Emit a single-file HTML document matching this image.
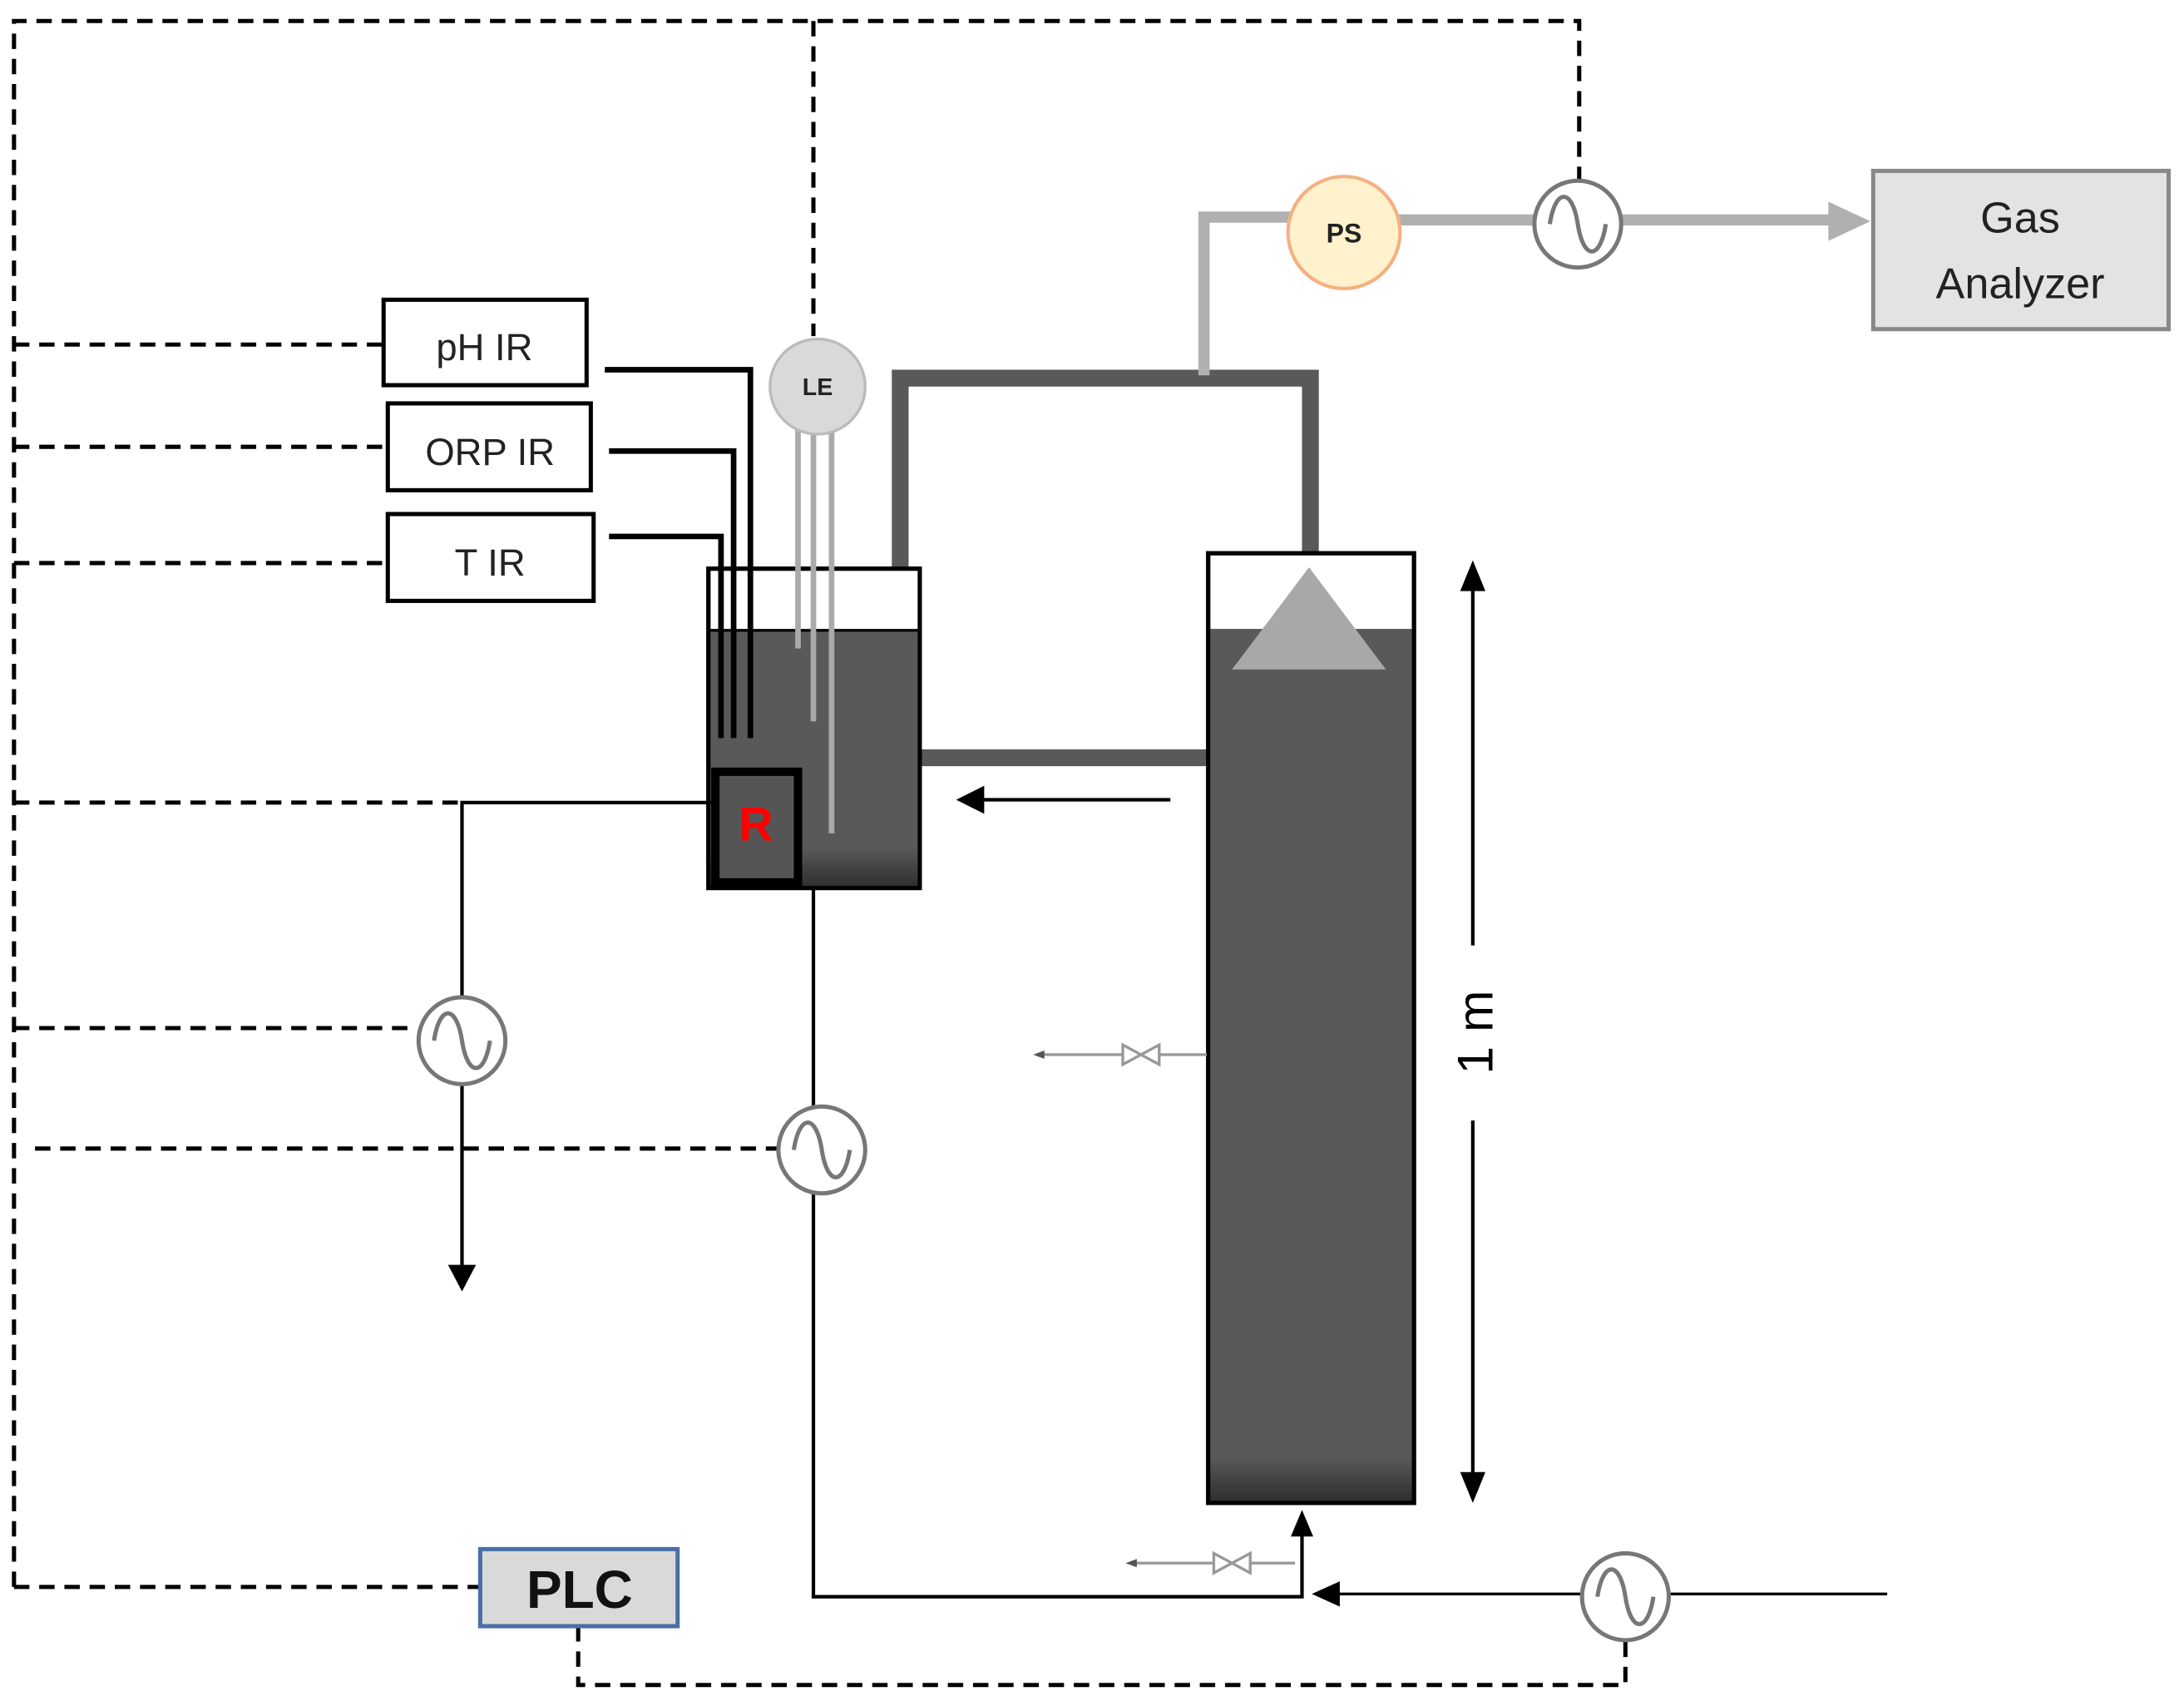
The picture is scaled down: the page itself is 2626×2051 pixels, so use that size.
<!DOCTYPE html>
<html><head><meta charset="utf-8"><style>html,body{margin:0;padding:0;background:#fff}svg{display:block}</style></head>
<body>
<svg width="2626" height="2051" viewBox="0 0 1560 1218" preserveAspectRatio="none" xmlns="http://www.w3.org/2000/svg" font-family="'Liberation Sans', sans-serif">
<defs>
<linearGradient id="liq" x1="0" y1="0" x2="0" y2="1">
<stop offset="0.85" stop-color="#595959"/><stop offset="1" stop-color="#2e2e2e"/>
</linearGradient>
<linearGradient id="liq2" x1="0" y1="0" x2="0" y2="1">
<stop offset="0.95" stop-color="#595959"/><stop offset="1" stop-color="#2e2e2e"/>
</linearGradient>
<g id="pump"><circle r="31" fill="#fff" stroke="#777" stroke-width="3"/><path d="M-20,0 C-16,-26 -4,-26 0,0 C4,26 16,26 20,0" fill="none" stroke="#777" stroke-width="3"/></g>
</defs>

<!-- dashed control lines -->
<g stroke="#000" stroke-width="3" stroke-dasharray="11,7" fill="none">
<path d="M10,1133 V15 H1128 V128"/>
<path d="M581,15 V240"/>
<path d="M10,246 H273"/>
<path d="M10,319 H277"/>
<path d="M10,402 H277"/>
<path d="M10,573 H330"/>
<path d="M10,734 H298"/>
<path d="M25,820 H555"/>
<path d="M10,1133 H343"/>
<path d="M413,1161 V1203 H1161 V1172"/>
</g>

<!-- sensor boxes -->
<g fill="#fff" stroke="#000" stroke-width="3">
<rect x="274" y="214" width="145" height="61"/>
<rect x="277" y="288" width="145" height="62"/>
<rect x="277" y="367" width="147" height="62"/>
</g>
<g font-size="27" fill="#222" text-anchor="middle">
<text x="346" y="257">pH IR</text>
<text x="350" y="332">ORP IR</text>
<text x="350" y="411">T IR</text>
</g>

<!-- dark pipes -->
<g stroke="#595959" stroke-width="12" fill="none">
<path d="M643,432 V270 H936 V405"/>
<path d="M658,541 H862"/>
</g>

<!-- tank 1 -->
<rect x="506" y="406" width="151" height="228" fill="#fff" stroke="#000" stroke-width="3"/>
<rect x="507" y="450" width="149" height="183" fill="url(#liq)"/>
<line x1="506" y1="450" x2="657" y2="450" stroke="#000" stroke-width="2"/>
<rect x="506" y="406" width="151" height="228" fill="none" stroke="#000" stroke-width="3"/>
<rect x="511" y="551" width="59" height="79" fill="#555" stroke="#000" stroke-width="6"/>
<text x="540" y="600" font-size="34" font-weight="bold" fill="#f00" text-anchor="middle">R</text>

<!-- sensor lines -->
<g stroke="#000" stroke-width="4" fill="none">
<path d="M432,264 H536 V527"/>
<path d="M435,322 H524 V527"/>
<path d="M435,383 H515 V527"/>
</g>
<path d="M510,573 H330 V905" stroke="#000" stroke-width="2.5" fill="none"/>
<polygon points="320,903 340,903 330,922" fill="#000"/>

<!-- LE probes -->
<g stroke="#aaa" stroke-width="4">
<line x1="570" y1="300" x2="570" y2="463"/>
<line x1="581" y1="300" x2="581" y2="515"/>
<line x1="594" y1="300" x2="594" y2="595"/>
</g>
<circle cx="584" cy="276" r="34" fill="#d9d9d9" stroke="#bbb" stroke-width="2"/>
<text x="584" y="282" font-size="17" font-weight="bold" text-anchor="middle" fill="#222">LE</text>

<!-- gas line -->
<g stroke="#b0b0b0" stroke-width="8" fill="none">
<path d="M860,268 V155 H925"/>
<path d="M998,157 H1100"/>
<path d="M1158,157 H1312"/>
</g>
<polygon points="1306,144 1336,158 1306,172" fill="#b0b0b0"/>
<circle cx="960" cy="166" r="40" fill="#fff2cc" stroke="#f4b183" stroke-width="2.5"/>
<text x="960" y="173" font-size="19" font-weight="bold" text-anchor="middle" fill="#222">PS</text>
<use href="#pump" x="1127" y="160"/>
<rect x="1338" y="122" width="211" height="113" fill="#e3e3e3" stroke="#888" stroke-width="3"/>
<g font-size="31" fill="#222" text-anchor="middle">
<text x="1443" y="166">Gas</text>
<text x="1443" y="213">Analyzer</text>
</g>

<!-- column -->
<rect x="863" y="395" width="147" height="678" fill="#fff" stroke="#000" stroke-width="3"/>
<rect x="864" y="449" width="145" height="623" fill="url(#liq2)"/>
<rect x="863" y="395" width="147" height="678" fill="none" stroke="#000" stroke-width="3"/>
<polygon points="935,405 990,478 880,478" fill="#aaa8a7"/>

<!-- return arrow -->
<line x1="836" y1="571" x2="700" y2="571" stroke="#000" stroke-width="2.5"/>
<polygon points="683,571 703,561 703,581" fill="#000"/>

<!-- dimension -->
<g stroke="#000" stroke-width="2.5">
<line x1="1052" y1="415" x2="1052" y2="675"/>
<line x1="1052" y1="800" x2="1052" y2="1058"/>
</g>
<polygon points="1052,400 1043,422 1061,422" fill="#000"/>
<polygon points="1052,1073 1043,1051 1061,1051" fill="#000"/>
<text transform="translate(1066,737) rotate(-90)" font-size="36" text-anchor="middle" fill="#000">1 m</text>

<!-- sampling valves -->
<g stroke="#999" stroke-width="2" fill="none">
<line x1="744" y1="753" x2="862" y2="753"/>
<path d="M802,746 L828,760 L828,746 L802,760 Z" fill="#fff"/>
<line x1="810" y1="1116" x2="925" y2="1116"/>
<path d="M867,1109 L893,1123 L893,1109 L867,1123 Z" fill="#fff"/>
</g>
<polygon points="738,753 746,750 746,756" fill="#555"/>
<polygon points="804,1116 812,1113 812,1119" fill="#555"/>

<!-- bottom loop -->
<path d="M581,634 V1140 H930 V1095" stroke="#000" stroke-width="2.5" fill="none"/>
<polygon points="930,1078 922,1097 938,1097" fill="#000"/>
<line x1="1348" y1="1138" x2="955" y2="1138" stroke="#000" stroke-width="2"/>
<polygon points="937,1138 957,1129 957,1147" fill="#000"/>

<!-- pumps -->
<use href="#pump" x="330" y="743"/>
<use href="#pump" x="587" y="821"/>
<use href="#pump" x="1161" y="1140"/>

<!-- PLC -->
<rect x="343" y="1106" width="141" height="55" fill="#d9d9d9" stroke="#4a6fa5" stroke-width="3"/>
<text x="414" y="1148" font-size="38" font-weight="bold" text-anchor="middle" fill="#111">PLC</text>
</svg>
</body></html>
